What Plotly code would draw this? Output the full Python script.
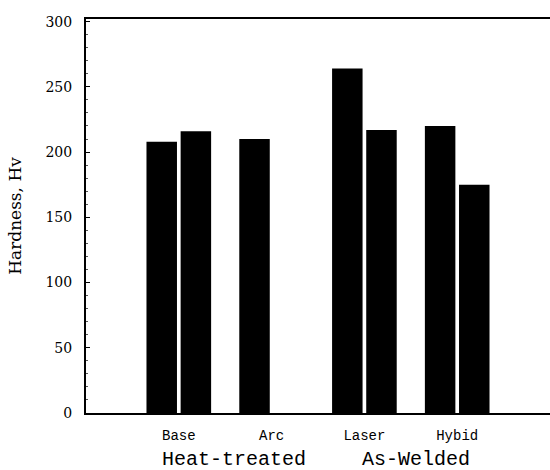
import plotly.graph_objects as go

categories = ["Base", "Arc", "Laser", "Hybid"]
series_a = [208, 210, 264, 220]
series_b = [216, None, 217, 175]
y_ticks = [0, 50, 100, 150, 200, 250, 300]
group_labels = ["Heat-treated", "As-Welded"]
group_label_x = [0.60, 2.56]

fig = go.Figure()
fig.add_trace(go.Bar(x=categories, y=series_a, marker=dict(color="black", line=dict(width=0)), name="A"))
fig.add_trace(go.Bar(x=categories, y=series_b, marker=dict(color="black", line=dict(width=0)), name="B"))

for lab, gx in zip(group_labels, group_label_x):
    fig.add_annotation(text=lab, x=gx, xref="x", y=-0.119, yref="paper",
                       showarrow=False, xanchor="center", yanchor="middle",
                       font=dict(family="Liberation Mono", size=20, color="black"))

fig.update_layout(
    width=550, height=470,
    margin=dict(l=86, r=0, t=19, b=57),
    paper_bgcolor="white", plot_bgcolor="white",
    barmode="group", bargap=0.264, bargroupgap=0.107,
    showlegend=False,
    xaxis=dict(
        type="category", range=[-1, 4],
        showline=True, linecolor="black", linewidth=2, mirror=True,
        ticks="", showgrid=False, zeroline=False,
        tickfont=dict(family="Liberation Mono", size=14, color="black"),
        ticklabelstandoff=8,
    ),
    yaxis=dict(
        range=[0, 302], tickvals=y_ticks,
        showline=True, linecolor="black", linewidth=2,
        ticks="inside", ticklen=4, tickcolor="black",
        minor=dict(dtick=10, ticks="inside", ticklen=2, tickcolor="#555"),
        showgrid=False, zeroline=False,
        ticklabelstandoff=9,
        tickfont=dict(family="DejaVu Serif", size=14, color="black"),
        title=dict(text="Hardness, Hv", font=dict(family="DejaVu Serif", size=17, color="black"), standoff=20),
    ),
)

fig.write_html("out.html", config={"displayModeBar": False},
               post_script="document.body.style.margin='0';document.body.style.overflow='hidden';")
